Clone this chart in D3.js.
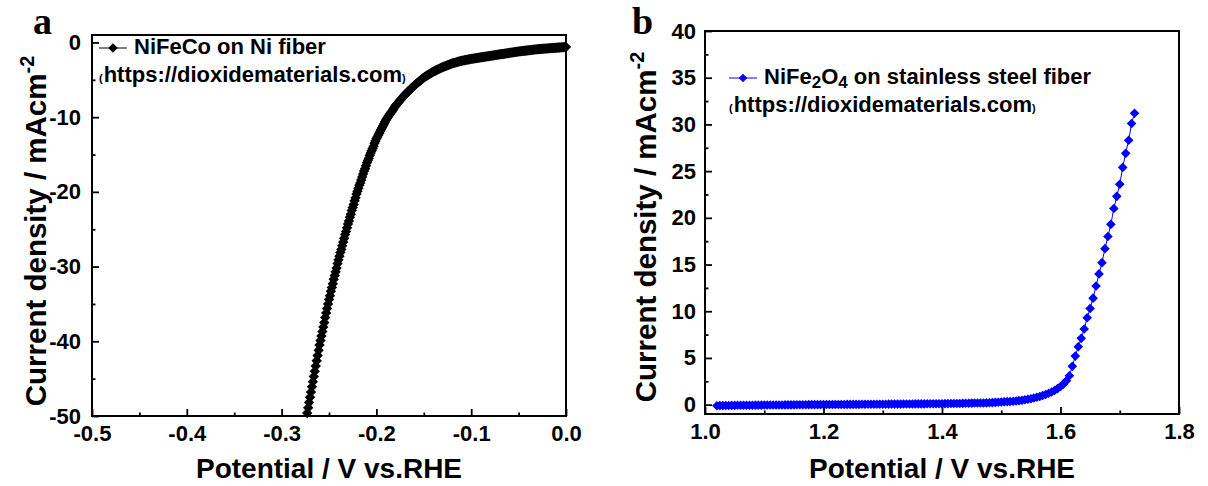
<!DOCTYPE html>
<html>
<head>
<meta charset="utf-8">
<script src="https://cdn.jsdelivr.net/npm/d3@7"></script>
<style>
  html, body { margin: 0; padding: 0; background: #fff; }
  svg { display: block; }
  text { font-family: "Liberation Sans", Arial, sans-serif; font-weight: bold; fill: #000; }
</style>
</head>
<body>
<svg id="chart" width="1208" height="486"></svg>
<script>
// Panel a: HER polarisation of NiFeCo on Ni fiber, [potential V vs RHE, current density mA/cm2]
const nifecoLSV = [
  [-0.273,-49.6],[-0.272,-48.9],[-0.271,-48.2],[-0.270,-47.5],[-0.269,-46.8],[-0.268,-46.1],[-0.267,-45.4],[-0.266,-44.7],[-0.265,-44.0],[-0.264,-43.3],
  [-0.263,-42.6],[-0.262,-41.9],[-0.261,-41.2],[-0.260,-40.5],[-0.259,-39.9],[-0.258,-39.3],[-0.257,-38.7],[-0.256,-38.1],[-0.255,-37.5],[-0.254,-36.8],
  [-0.253,-36.2],[-0.252,-35.6],[-0.251,-35.0],[-0.250,-34.4],[-0.249,-33.9],[-0.248,-33.3],[-0.247,-32.8],[-0.246,-32.3],[-0.245,-31.7],[-0.244,-31.2],
  [-0.243,-30.7],[-0.242,-30.2],[-0.241,-29.6],[-0.240,-29.1],[-0.239,-28.6],[-0.238,-28.1],[-0.237,-27.7],[-0.236,-27.2],[-0.235,-26.7],[-0.234,-26.2],
  [-0.233,-25.7],[-0.232,-25.3],[-0.231,-24.8],[-0.230,-24.3],[-0.229,-23.9],[-0.228,-23.4],[-0.227,-23.0],[-0.226,-22.5],[-0.225,-22.1],[-0.224,-21.7],
  [-0.223,-21.2],[-0.222,-20.8],[-0.221,-20.3],[-0.220,-19.9],[-0.219,-19.5],[-0.218,-19.1],[-0.217,-18.8],[-0.216,-18.4],[-0.215,-18.0],[-0.214,-17.6],
  [-0.213,-17.2],[-0.212,-16.9],[-0.211,-16.5],[-0.210,-16.1],[-0.209,-15.8],[-0.208,-15.5],[-0.207,-15.1],[-0.206,-14.8],[-0.205,-14.5],[-0.204,-14.2],
  [-0.203,-13.9],[-0.202,-13.5],[-0.201,-13.2],[-0.200,-12.9],[-0.199,-12.65],[-0.198,-12.4],[-0.197,-12.15],[-0.196,-11.9],[-0.195,-11.65],[-0.194,-11.4],
  [-0.193,-11.15],[-0.192,-10.9],[-0.191,-10.65],[-0.190,-10.4],[-0.189,-10.2],[-0.188,-10.0],[-0.187,-9.8],[-0.186,-9.6],[-0.185,-9.45],[-0.184,-9.3],
  [-0.183,-9.1],[-0.182,-8.9],[-0.181,-8.7],[-0.180,-8.5],[-0.179,-8.35],[-0.178,-8.2],[-0.177,-8.05],[-0.176,-7.9],[-0.175,-7.75],[-0.174,-7.6],
  [-0.173,-7.45],[-0.172,-7.3],[-0.171,-7.15],[-0.170,-7.0],[-0.169,-6.88],[-0.168,-6.75],[-0.167,-6.63],[-0.166,-6.5],[-0.165,-6.38],[-0.164,-6.25],
  [-0.163,-6.13],[-0.162,-6.0],[-0.161,-5.88],[-0.160,-5.75],[-0.159,-5.65],[-0.158,-5.54],[-0.157,-5.44],[-0.156,-5.33],[-0.155,-5.23],[-0.154,-5.12],
  [-0.153,-5.02],[-0.152,-4.91],[-0.151,-4.81],[-0.150,-4.70],[-0.149,-4.62],[-0.148,-4.54],[-0.147,-4.46],[-0.146,-4.38],[-0.145,-4.30],[-0.144,-4.22],
  [-0.143,-4.14],[-0.142,-4.06],[-0.141,-3.98],[-0.140,-3.90],[-0.139,-3.84],[-0.138,-3.78],[-0.137,-3.72],[-0.136,-3.66],[-0.135,-3.60],[-0.134,-3.54],
  [-0.133,-3.48],[-0.132,-3.42],[-0.131,-3.36],[-0.130,-3.30],[-0.129,-3.25],[-0.128,-3.20],[-0.127,-3.15],[-0.126,-3.10],[-0.125,-3.05],[-0.124,-3.00],
  [-0.123,-2.95],[-0.122,-2.90],[-0.121,-2.85],[-0.120,-2.80],[-0.119,-2.77],[-0.118,-2.73],[-0.117,-2.70],[-0.116,-2.66],[-0.115,-2.63],[-0.114,-2.59],
  [-0.113,-2.56],[-0.112,-2.52],[-0.111,-2.49],[-0.110,-2.45],[-0.109,-2.43],[-0.108,-2.40],[-0.107,-2.38],[-0.106,-2.35],[-0.105,-2.33],[-0.104,-2.30],
  [-0.103,-2.28],[-0.102,-2.25],[-0.101,-2.23],[-0.100,-2.20],[-0.099,-2.18],[-0.098,-2.16],[-0.097,-2.14],[-0.096,-2.12],[-0.095,-2.10],[-0.094,-2.08],
  [-0.093,-2.06],[-0.092,-2.04],[-0.091,-2.02],[-0.090,-2.00],[-0.089,-1.98],[-0.088,-1.96],[-0.087,-1.94],[-0.086,-1.92],[-0.085,-1.90],[-0.084,-1.88],
  [-0.083,-1.86],[-0.082,-1.84],[-0.081,-1.82],[-0.080,-1.80],[-0.079,-1.78],[-0.078,-1.76],[-0.077,-1.74],[-0.076,-1.72],[-0.075,-1.70],[-0.074,-1.68],
  [-0.073,-1.66],[-0.072,-1.64],[-0.071,-1.62],[-0.070,-1.60],[-0.069,-1.58],[-0.068,-1.56],[-0.067,-1.54],[-0.066,-1.52],[-0.065,-1.50],[-0.064,-1.48],
  [-0.063,-1.46],[-0.062,-1.44],[-0.061,-1.42],[-0.060,-1.40],[-0.059,-1.38],[-0.058,-1.36],[-0.057,-1.34],[-0.056,-1.32],[-0.055,-1.30],[-0.054,-1.28],
  [-0.053,-1.26],[-0.052,-1.24],[-0.051,-1.22],[-0.050,-1.20],[-0.049,-1.19],[-0.048,-1.17],[-0.047,-1.16],[-0.046,-1.14],[-0.045,-1.13],[-0.044,-1.11],
  [-0.043,-1.10],[-0.042,-1.08],[-0.041,-1.07],[-0.040,-1.05],[-0.039,-1.04],[-0.038,-1.02],[-0.037,-1.01],[-0.036,-0.99],[-0.035,-0.98],[-0.034,-0.96],
  [-0.033,-0.95],[-0.032,-0.93],[-0.031,-0.92],[-0.030,-0.90],[-0.029,-0.89],[-0.028,-0.88],[-0.027,-0.87],[-0.026,-0.86],[-0.025,-0.85],[-0.024,-0.84],
  [-0.023,-0.83],[-0.022,-0.82],[-0.021,-0.81],[-0.020,-0.80],[-0.019,-0.79],[-0.018,-0.78],[-0.017,-0.77],[-0.016,-0.76],[-0.015,-0.75],[-0.014,-0.74],
  [-0.013,-0.73],[-0.012,-0.72],[-0.011,-0.71],[-0.010,-0.70],[-0.009,-0.69],[-0.008,-0.68],[-0.007,-0.67],[-0.006,-0.66],[-0.005,-0.65],[-0.004,-0.64],
  [-0.003,-0.63],[-0.002,-0.62],[-0.001,-0.61],[0.000,-0.60]
];

// Panel b: OER polarisation of NiFe2O4 on stainless steel fiber, [potential V vs RHE, current density mA/cm2]
const nifeOxideLSV = [
  [1.020,-0.12],[1.025,-0.10],[1.030,-0.10],[1.035,-0.09],[1.040,-0.09],[1.045,-0.08],[1.050,-0.08],[1.055,-0.07],[1.060,-0.07],[1.065,-0.07],
  [1.070,-0.06],[1.075,-0.06],[1.080,-0.06],[1.085,-0.05],[1.090,-0.05],[1.095,-0.05],[1.100,-0.04],[1.105,-0.04],[1.110,-0.04],[1.115,-0.03],
  [1.120,-0.03],[1.125,-0.03],[1.130,-0.03],[1.135,-0.02],[1.140,-0.02],[1.145,-0.02],[1.150,-0.02],[1.155,-0.01],[1.160,-0.01],[1.165,-0.01],
  [1.170,-0.01],[1.175,0.00],[1.180,0.00],[1.185,0.00],[1.190,0.00],[1.195,0.00],[1.200,0.01],[1.205,0.01],[1.210,0.01],[1.215,0.02],
  [1.220,0.02],[1.225,0.02],[1.230,0.02],[1.235,0.02],[1.240,0.03],[1.245,0.03],[1.250,0.03],[1.255,0.03],[1.260,0.03],[1.265,0.04],
  [1.270,0.04],[1.275,0.04],[1.280,0.04],[1.285,0.05],[1.290,0.05],[1.295,0.05],[1.300,0.05],[1.305,0.05],[1.310,0.06],[1.315,0.06],
  [1.320,0.06],[1.325,0.06],[1.330,0.06],[1.335,0.07],[1.340,0.07],[1.345,0.07],[1.350,0.07],[1.355,0.08],[1.360,0.08],[1.365,0.08],
  [1.370,0.08],[1.375,0.09],[1.380,0.09],[1.385,0.09],[1.390,0.10],[1.395,0.10],[1.400,0.10],[1.405,0.11],[1.410,0.11],[1.415,0.12],
  [1.420,0.12],[1.425,0.13],[1.430,0.13],[1.435,0.14],[1.440,0.15],[1.445,0.15],[1.450,0.16],[1.455,0.17],[1.460,0.17],[1.465,0.18],
  [1.470,0.18],[1.475,0.19],[1.480,0.21],[1.485,0.22],[1.490,0.24],[1.495,0.26],[1.500,0.28],[1.505,0.30],[1.510,0.32],[1.515,0.34],
  [1.520,0.36],[1.525,0.39],[1.530,0.43],[1.535,0.47],[1.540,0.52],[1.545,0.58],[1.550,0.64],[1.555,0.71],[1.560,0.79],[1.565,0.88],
  [1.570,0.98],[1.575,1.09],[1.580,1.22],[1.585,1.36],[1.590,1.52],[1.595,1.72],[1.600,1.95],[1.605,2.20],[1.610,2.55],[1.615,3.10],
  [1.620,4.1],[1.625,5.2],[1.630,6.2],[1.635,7.1],[1.640,8.1],[1.645,9.3],[1.650,10.3],[1.655,11.4],[1.660,12.7],[1.665,14.0],
  [1.670,15.2],[1.675,16.7],[1.680,18.0],[1.685,19.3],[1.690,21.0],[1.695,22.3],[1.700,23.6],[1.705,25.4],[1.710,26.9],[1.715,28.3],
  [1.720,30.1],[1.725,31.2]
];

// Axis ticks
const xTicksA = [-0.5, -0.4, -0.3, -0.2, -0.1, 0.0];
const xMinorA = [-0.45, -0.35, -0.25, -0.15, -0.05];
const yTicksA = [0, -10, -20, -30, -40, -50];
const yMinorA = [-5, -15, -25, -35, -45];
const xTicksB = [1.0, 1.2, 1.4, 1.6, 1.8];
const xMinorB = [1.1, 1.3, 1.5, 1.7];
const yTicksB = [0, 5, 10, 15, 20, 25, 30, 35, 40];
const yMinorB = [2.5, 7.5, 12.5, 17.5, 22.5, 27.5, 32.5, 37.5];

const svg = d3.select("#chart");

function diamondPath(r) {
  return `M0,${-r}L${r},0L0,${r}L${-r},0Z`;
}

function drawPanel(cfg) {
  const g = svg.append("g");
  const x = d3.scaleLinear().domain(cfg.xDomain).range([cfg.left, cfg.right]);
  const y = d3.scaleLinear().domain(cfg.yDomain).range([cfg.bottom, cfg.top]);

  // connecting line and diamond markers
  g.append("path")
    .datum(cfg.data)
    .attr("fill", "none")
    .attr("stroke", cfg.color)
    .attr("stroke-width", 1)
    .attr("d", d3.line().x(d => x(d[0])).y(d => y(d[1])));

  g.append("g").selectAll("path")
    .data(cfg.data)
    .join("path")
    .attr("d", diamondPath(cfg.r))
    .attr("transform", d => `translate(${x(d[0])},${y(d[1])})`)
    .attr("fill", cfg.color);

  // inward ticks, major with labels and minor without
  const xAxis = g.append("g").attr("transform", `translate(0,${cfg.bottom})`)
    .call(d3.axisBottom(x).tickValues(cfg.xTicks).tickSizeInner(-7).tickSizeOuter(0)
      .tickPadding(9).tickFormat(cfg.xFormat));
  const xAxisMinor = g.append("g").attr("transform", `translate(0,${cfg.bottom})`)
    .call(d3.axisBottom(x).tickValues(cfg.xMinor).tickSizeInner(-3.5).tickSizeOuter(0).tickFormat(""));
  const yAxis = g.append("g").attr("transform", `translate(${cfg.left},0)`)
    .call(d3.axisLeft(y).tickValues(cfg.yTicks).tickSizeInner(-7).tickSizeOuter(0)
      .tickPadding(cfg.yPad).tickFormat(d => String(d)));
  const yAxisMinor = g.append("g").attr("transform", `translate(${cfg.left},0)`)
    .call(d3.axisLeft(y).tickValues(cfg.yMinor).tickSizeInner(-3.5).tickSizeOuter(0).tickFormat(""));

  [xAxis, xAxisMinor, yAxis, yAxisMinor].forEach(a => {
    a.select(".domain").remove();
    a.selectAll(".tick line").attr("stroke", "#000").attr("stroke-width", 1.8);
    a.selectAll(".tick text")
      .attr("font-family", "'Liberation Sans', Arial, sans-serif")
      .attr("font-weight", "bold")
      .attr("font-size", 22)
      .attr("fill", "#000");
  });

  // frame
  g.append("rect")
    .attr("x", cfg.left).attr("y", cfg.top)
    .attr("width", cfg.right - cfg.left).attr("height", cfg.bottom - cfg.top)
    .attr("fill", "none").attr("stroke", "#000").attr("stroke-width", 2);

  // axis titles
  g.append("text")
    .attr("x", (cfg.left + cfg.right) / 2).attr("y", 478)
    .attr("text-anchor", "middle").attr("font-size", 28)
    .text("Potential / V vs.RHE");

  const yt = g.append("text")
    .attr("transform", `translate(${cfg.yTitleX},${cfg.yTitleY}) rotate(-90)`)
    .attr("text-anchor", "middle").attr("font-size", 29.5);
  yt.append("tspan").text("Current density / mAcm");
  yt.append("tspan").attr("font-size", 20).attr("dy", -12).text("-2");

  // panel letter
  g.append("text")
    .attr("x", cfg.letterX).attr("y", 34)
    .style("font-family", "'Liberation Serif', 'Times New Roman', serif")
    .attr("font-size", 38)
    .text(cfg.letter);

  // legend
  const L = cfg.legend;
  g.append("line")
    .attr("x1", L.x).attr("x2", L.x + 28).attr("y1", L.y).attr("y2", L.y)
    .attr("stroke", cfg.color).attr("stroke-width", 1);
  g.append("path")
    .attr("d", diamondPath(cfg.r * 0.9))
    .attr("transform", `translate(${L.x + 14},${L.y})`)
    .attr("fill", cfg.color);
  const lt = g.append("text").attr("x", L.x + 35).attr("y", L.y + 6).attr("font-size", 22);
  L.parts.forEach(p => {
    const t = lt.append("tspan").text(p.t);
    if (p.sub) t.attr("font-size", 17).attr("dy", 4);
    if (p.back) t.attr("dy", -4);
  });
  const st = g.append("text").attr("x", L.x).attr("y", L.y + 34).attr("font-size", 22);
  st.append("tspan").attr("font-size", 11).text("(");
  st.append("tspan").attr("dx", 1).text("https://dioxidematerials.com");
  st.append("tspan").attr("font-size", 11).text(")");
}

drawPanel({
  data: nifecoLSV, color: "#000", r: 5.2,
  xDomain: [-0.5, 0.0], yDomain: [-50, 1],
  left: 92, right: 566, top: 35, bottom: 416,
  xTicks: xTicksA, xMinor: xMinorA, yTicks: yTicksA, yMinor: yMinorA,
  xFormat: d => d.toFixed(1), yPad: 11,
  yTitleX: 46, yTitleY: 231,
  letter: "a", letterX: 33,
  legend: { x: 99, y: 48, parts: [{ t: "NiFeCo on Ni fiber" }] }
});

drawPanel({
  data: nifeOxideLSV, color: "#0000ff", r: 4.8,
  xDomain: [1.0, 1.8], yDomain: [-1, 40],
  left: 705, right: 1179, top: 31, bottom: 414,
  xTicks: xTicksB, xMinor: xMinorB, yTicks: yTicksB, yMinor: yMinorB,
  xFormat: d => d.toFixed(1), yPad: 9,
  yTitleX: 656, yTitleY: 227,
  letter: "b", letterX: 632,
  legend: { x: 729, y: 78, parts: [
    { t: "NiFe" }, { t: "2", sub: true }, { t: "O", back: true }, { t: "4", sub: true }, { t: " on stainless steel fiber", back: true }
  ] }
});
</script>
</body>
</html>
